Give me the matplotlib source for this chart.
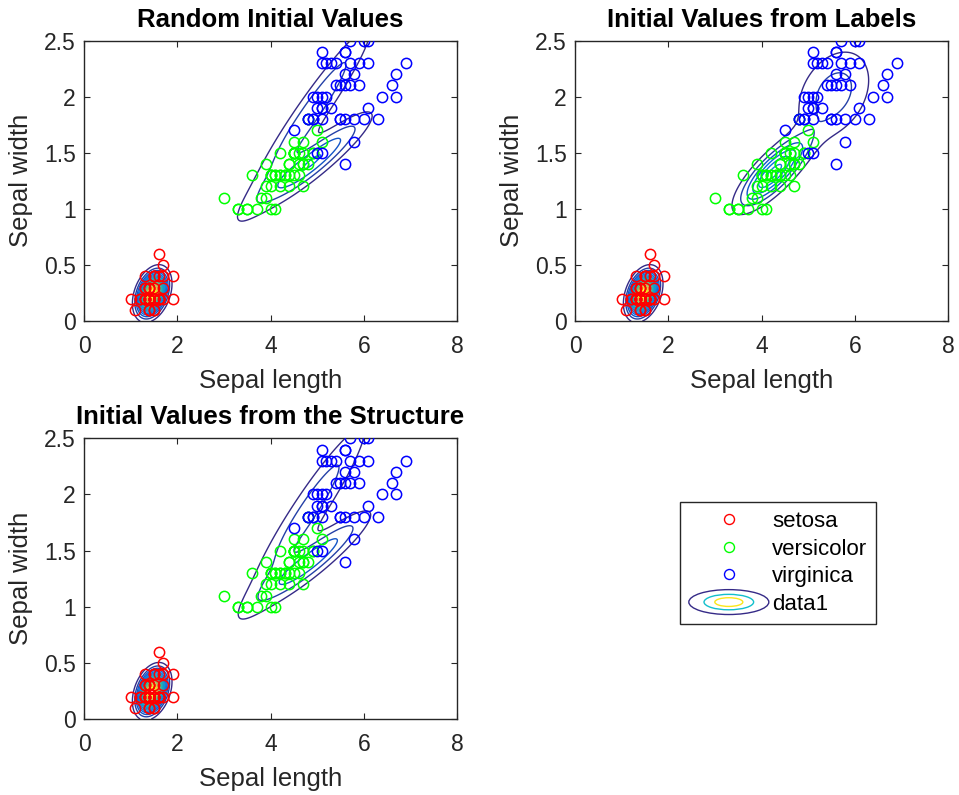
import numpy as np
import matplotlib
matplotlib.use("Agg")
import matplotlib.pyplot as plt
from matplotlib.colors import LinearSegmentedColormap
from matplotlib.legend_handler import HandlerBase
from matplotlib.lines import Line2D
from matplotlib.patches import Ellipse

# Iris petal measurements (shown with the axis names used in the picture)
setosa_len = [1.4, 1.4, 1.3, 1.5, 1.4, 1.7, 1.4, 1.5, 1.4, 1.5, 1.5, 1.6, 1.4, 1.1, 1.2, 1.5, 1.3,
              1.4, 1.7, 1.5, 1.7, 1.5, 1.0, 1.7, 1.9, 1.6, 1.6, 1.5, 1.4, 1.6, 1.6, 1.5, 1.5, 1.4,
              1.5, 1.2, 1.3, 1.4, 1.3, 1.5, 1.3, 1.3, 1.3, 1.6, 1.9, 1.4, 1.6, 1.4, 1.5, 1.4]
setosa_wid = [0.2, 0.2, 0.2, 0.2, 0.2, 0.4, 0.3, 0.2, 0.2, 0.1, 0.2, 0.2, 0.1, 0.1, 0.2, 0.4, 0.4,
              0.3, 0.3, 0.3, 0.2, 0.4, 0.2, 0.5, 0.2, 0.2, 0.4, 0.2, 0.2, 0.2, 0.2, 0.4, 0.1, 0.2,
              0.2, 0.2, 0.2, 0.1, 0.2, 0.2, 0.3, 0.3, 0.2, 0.6, 0.4, 0.3, 0.2, 0.2, 0.2, 0.2]
versicolor_len = [4.7, 4.5, 4.9, 4.0, 4.6, 4.5, 4.7, 3.3, 4.6, 3.9, 3.5, 4.2, 4.0, 4.7, 3.6, 4.4, 4.5,
                  4.1, 4.5, 3.9, 4.8, 4.0, 4.9, 4.7, 4.3, 4.4, 4.8, 5.0, 4.5, 3.5, 3.8, 3.7, 3.9, 5.1,
                  4.5, 4.5, 4.7, 4.4, 4.1, 4.0, 4.4, 4.6, 4.0, 3.3, 4.2, 4.2, 4.2, 4.3, 3.0, 4.1]
versicolor_wid = [1.4, 1.5, 1.5, 1.3, 1.5, 1.3, 1.6, 1.0, 1.3, 1.4, 1.0, 1.5, 1.0, 1.4, 1.3, 1.4, 1.5,
                  1.0, 1.5, 1.1, 1.8, 1.3, 1.5, 1.2, 1.3, 1.4, 1.4, 1.7, 1.5, 1.0, 1.1, 1.0, 1.2, 1.6,
                  1.5, 1.6, 1.5, 1.3, 1.3, 1.3, 1.2, 1.4, 1.2, 1.0, 1.3, 1.2, 1.3, 1.3, 1.1, 1.3]
virginica_len = [6.0, 5.1, 5.9, 5.6, 5.8, 6.6, 4.5, 6.3, 5.8, 6.1, 5.1, 5.3, 5.5, 5.0, 5.1, 5.3, 5.5,
                 6.7, 6.9, 5.0, 5.7, 4.9, 6.7, 4.9, 5.7, 6.0, 4.8, 4.9, 5.6, 5.8, 6.1, 6.4, 5.6, 5.1,
                 5.6, 6.1, 5.6, 5.5, 4.8, 5.4, 5.6, 5.1, 5.1, 5.9, 5.7, 5.2, 5.0, 5.2, 5.4, 5.1]
virginica_wid = [2.5, 1.9, 2.1, 1.8, 2.2, 2.1, 1.7, 1.8, 1.8, 2.5, 2.0, 1.9, 2.1, 2.0, 2.4, 2.3, 1.8,
                 2.2, 2.3, 1.5, 2.3, 2.0, 2.0, 1.8, 2.1, 1.8, 1.8, 1.8, 2.1, 1.6, 1.9, 2.0, 2.2, 1.5,
                 1.4, 2.3, 2.4, 1.8, 1.8, 2.1, 2.4, 2.3, 1.9, 2.3, 2.5, 2.3, 1.9, 2.0, 2.3, 1.8]

species = ['setosa', 'versicolor', 'virginica']
titles = ['Random Initial Values', 'Initial Values from Labels', 'Initial Values from the Structure']

# Fitted mixture models (weights, means, covariances), one per subplot
random_weights = [0.333, 0.36, 0.307]
random_means = [[1.462, 0.246], [4.85, 1.85], [4.90, 1.42]]
random_covs = [[[0.0296, 0.0061], [0.0061, 0.0109]],
               [[0.754, 0.426], [0.426, 0.263]],
               [[0.580, 0.185], [0.185, 0.070]]]

labels_weights = [0.333, 0.333, 0.334]
labels_means = [[1.462, 0.246], [4.26, 1.326], [5.552, 2.026]]
labels_covs = [[[0.0296, 0.0061], [0.0061, 0.0109]],
               [[0.2164, 0.0718], [0.0718, 0.0383]],
               [[0.2985, 0.0478], [0.0478, 0.0739]]]

struct_weights = [0.333, 0.38, 0.287]
struct_means = [[1.462, 0.246], [4.80, 1.85], [4.90, 1.42]]
struct_covs = [[[0.0296, 0.0061], [0.0061, 0.0109]],
               [[0.7407, 0.4316], [0.4316, 0.2818]],
               [[0.580, 0.185], [0.185, 0.070]]]

models = [(random_weights, random_means, random_covs),
          (labels_weights, labels_means, labels_covs),
          (struct_weights, struct_means, struct_covs)]

parula = LinearSegmentedColormap.from_list('parula', [
    (0.208, 0.166, 0.529), (0.020, 0.400, 0.880), (0.080, 0.530, 0.830),
    (0.070, 0.650, 0.760), (0.200, 0.720, 0.640), (0.520, 0.750, 0.420),
    (0.880, 0.730, 0.280), (0.977, 0.983, 0.054)])


def gm_pdf(xx, yy, weights, means, covs):
    z = np.zeros_like(xx)
    for w, m, c in zip(weights, means, covs):
        c = np.array(c)
        inv = np.linalg.inv(c)
        dx = xx - m[0]
        dy = yy - m[1]
        q = inv[0, 0] * dx * dx + 2 * inv[0, 1] * dx * dy + inv[1, 1] * dy * dy
        z += w * np.exp(-0.5 * q) / (2 * np.pi * np.sqrt(np.linalg.det(c)))
    return z


class ContourHandler(HandlerBase):
    # legend entry drawn as three nested contour rings
    def create_artists(self, legend, orig_handle, xdescent, ydescent, width, height, fontsize, trans):
        cx = width / 2 - xdescent
        cy = height / 2 - ydescent
        out = []
        for f, col in [(1.0, (0.208, 0.166, 0.529)), (0.62, (0.07, 0.75, 0.80)), (0.35, (0.98, 0.90, 0.10))]:
            e = Ellipse((cx, cy), width * f, height * 1.6 * f, fill=False, edgecolor=col,
                        linewidth=1.0, transform=trans)
            out.append(e)
        return out


plt.rcParams['font.family'] = ['Liberation Sans', 'DejaVu Sans']
fig = plt.figure(figsize=(9.59, 7.95), dpi=100)

ax_pos = [[0.0876, 0.596, 0.389, 0.353],
          [0.5996, 0.596, 0.389, 0.353],
          [0.0876, 0.0956, 0.389, 0.353]]

colors = ['red', (0, 1, 0), 'blue']
xs = [setosa_len, versicolor_len, virginica_len]
ys = [setosa_wid, versicolor_wid, virginica_wid]

gx, gy = np.meshgrid(np.linspace(0, 8, 801), np.linspace(0, 2.5, 400))
gray = (0.15, 0.15, 0.15)

for j in range(3):
    ax = fig.add_axes(ax_pos[j])
    z = gm_pdf(gx, gy, *models[j])
    levels = np.linspace(z.min(), z.max(), 22)[1:-1]
    ax.contour(gx, gy, z, levels=levels, cmap=parula, linewidths=1.0, zorder=1)
    for k in range(3):
        ax.plot(xs[k], ys[k], 'o', mfc='none', mec=colors[k], ms=7.4, mew=1.1, zorder=3)
    ax.set_xlim(0, 8)
    ax.set_ylim(0, 2.5)
    ax.set_xticks([0, 2, 4, 6, 8])
    ax.set_yticks([0, 0.5, 1, 1.5, 2, 2.5])
    ax.set_yticklabels(['0', '0.5', '1', '1.5', '2', '2.5'])
    ax.tick_params(direction='in', top=True, right=True, length=4, width=0.8,
                   labelsize=16.5, colors=gray, pad=6)
    ax.tick_params(axis='x', pad=10)
    for sp in ax.spines.values():
        sp.set_color(gray)
        sp.set_linewidth(1.0)
    ax.set_xlabel('Sepal length', fontsize=18.5, color=gray, labelpad=8)
    ax.set_ylabel('Sepal width', fontsize=18.5, color=gray, labelpad=8)
    ax.set_title(titles[j], fontsize=18.5, fontweight='bold', pad=10)

handles = [Line2D([], [], ls='none', marker='o', mfc='none', mec=c, ms=7.2, mew=1.0) for c in colors]
handles.append(object())
fig.legend(handles, species + ['data1'], handler_map={object: ContourHandler()},
           loc='upper left', bbox_to_anchor=(0.709, 0.3686), fontsize=16, borderaxespad=0,
           frameon=True, fancybox=False, edgecolor=gray, framealpha=1,
           handlelength=3.6, handletextpad=0.15, labelspacing=0.3, borderpad=0.4)

plt.savefig('out.png', dpi=100)
